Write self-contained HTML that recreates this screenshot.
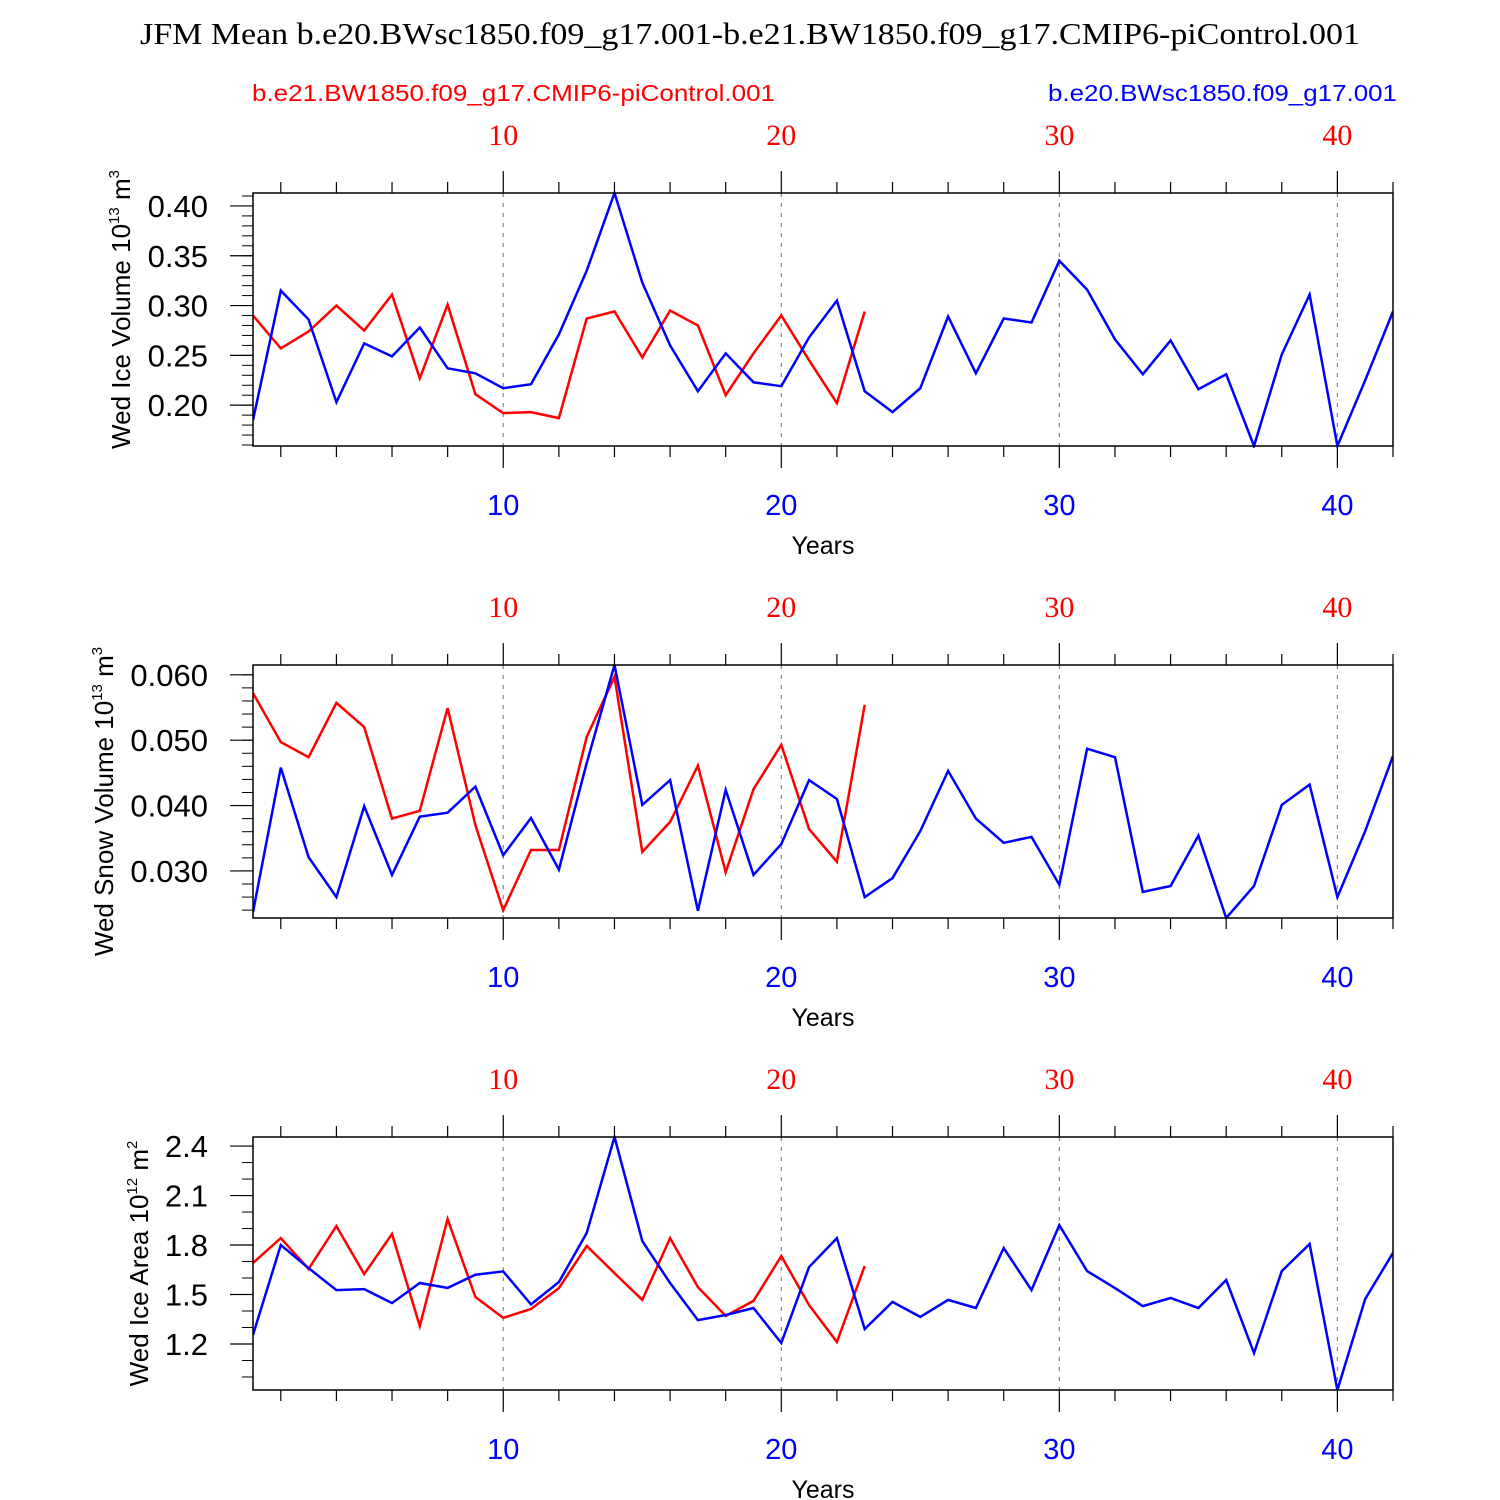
<!DOCTYPE html>
<html><head><meta charset="utf-8"><style>
html,body{margin:0;padding:0;background:#fff;}
svg{display:block;font-family:"Liberation Sans",sans-serif;}
</style></head><body>
<svg id="chart" width="1500" height="1500" viewBox="0 0 1500 1500" xmlns="http://www.w3.org/2000/svg">
<text x="140" y="44" textLength="1220" lengthAdjust="spacingAndGlyphs" font-family="Liberation Serif, serif" font-size="31">JFM Mean b.e20.BWsc1850.f09_g17.001-b.e21.BW1850.f09_g17.CMIP6-piControl.001</text>
<text x="252" y="101" fill="#f00" font-size="23" textLength="523" lengthAdjust="spacingAndGlyphs">b.e21.BW1850.f09_g17.CMIP6-piControl.001</text>
<text x="1048" y="101" fill="#00f" font-size="23" textLength="349" lengthAdjust="spacingAndGlyphs">b.e20.BWsc1850.f09_g17.001</text>
</svg>
<script>
const xTicks=[10,20,30,40];
const iceVolBlue=[0.185,0.315,0.286,0.203,0.262,0.249,0.278,0.237,0.232,0.217,0.221,0.271,0.335,0.413,0.323,0.260,0.214,0.252,0.223,0.219,0.268,0.305,0.214,0.193,0.217,0.289,0.232,0.287,0.283,0.345,0.316,0.266,0.231,0.265,0.216,0.231,0.159,0.251,0.311,0.159,0.225,0.294];
const iceVolRed=[0.290,0.257,0.274,0.300,0.275,0.311,0.227,0.301,0.211,0.192,0.193,0.187,0.287,0.294,0.248,0.295,0.280,0.210,0.252,0.290,0.245,0.202,0.294];
const snowVolBlue=[0.0237,0.0458,0.0321,0.0260,0.0399,0.0294,0.0383,0.0389,0.0429,0.0324,0.0381,0.0302,0.0465,0.0615,0.0401,0.0439,0.0239,0.0424,0.0294,0.0341,0.0439,0.0410,0.0260,0.0289,0.0361,0.0453,0.0380,0.0343,0.0352,0.0279,0.0487,0.0474,0.0268,0.0277,0.0354,0.0228,0.0277,0.0401,0.0432,0.0260,0.0361,0.0476];
const snowVolRed=[0.0572,0.0497,0.0474,0.0557,0.0520,0.0380,0.0392,0.0549,0.0370,0.0240,0.0332,0.0332,0.0505,0.0597,0.0329,0.0375,0.0461,0.0298,0.0425,0.0493,0.0364,0.0314,0.0554];
const iceAreaBlue=[1.255,1.80,1.66,1.527,1.533,1.448,1.57,1.54,1.62,1.64,1.44,1.576,1.873,2.455,1.824,1.57,1.345,1.376,1.418,1.206,1.667,1.842,1.291,1.455,1.364,1.467,1.418,1.782,1.527,1.921,1.642,1.539,1.43,1.479,1.418,1.588,1.145,1.642,1.806,0.921,1.473,1.752];
const iceAreaRed=[1.691,1.842,1.655,1.915,1.624,1.867,1.309,1.958,1.485,1.358,1.412,1.539,1.794,1.630,1.467,1.842,1.545,1.37,1.461,1.733,1.436,1.212,1.673];
const iceVolTicks=["0.20","0.25","0.30","0.35","0.40"];
const snowVolTicks=["0.030","0.040","0.050","0.060"];
const iceAreaTicks=["1.2","1.5","1.8","2.1","2.4"];

const NS="http://www.w3.org/2000/svg";
const svg=document.getElementById('chart');
function mk(tag,attrs,parent){const e=document.createElementNS(NS,tag);for(const k in attrs)e.setAttribute(k,attrs[k]);(parent||svg).appendChild(e);return e;}
const X0=253,X1=1393,XMIN=1,XMAX=42;
const sx=v=>X0+(v-XMIN)/(XMAX-XMIN)*(X1-X0);

const panels=[
 {name:'ice-volume',top:193,bot:446,ymin:0.159,ymax:0.413,ticks:iceVolTicks,minor:0.01,blue:iceVolBlue,red:iceVolRed,label:'Wed Ice Volume 10',exp:'13',unit:' m',uexp:'3',tx:130,ty:-10},
 {name:'snow-volume',top:665,bot:918,ymin:0.0228,ymax:0.0615,ticks:snowVolTicks,minor:0.002,blue:snowVolBlue,red:snowVolRed,label:'Wed Snow Volume 10',exp:'13',unit:' m',uexp:'3',tx:113,ty:10},
 {name:'ice-area',top:1137,bot:1390,ymin:0.921,ymax:2.455,ticks:iceAreaTicks,minor:0.1,blue:iceAreaBlue,red:iceAreaRed,label:'Wed Ice Area 10',exp:'12',unit:' m',uexp:'2',tx:148,ty:0}
];
panels.forEach(p=>{
 const g=mk('g',{});
 
 
 const sy=v=>p.bot-(v-p.ymin)/(p.ymax-p.ymin)*(p.bot-p.top);
 xTicks.forEach(t=>{const l=mk('line',{x1:sx(t),x2:sx(t),y1:p.top,y2:p.bot,stroke:'#888','stroke-width':1.2,'stroke-dasharray':'4,6'},g);
  
  });
 for(let t=2;t<=42;t+=2){const len=(t%10==0)?22:11;
  mk('line',{x1:sx(t),x2:sx(t),y1:p.top,y2:p.top-len,stroke:'#000','stroke-width':1.2},g);
  mk('line',{x1:sx(t),x2:sx(t),y1:p.bot,y2:p.bot+len,stroke:'#000','stroke-width':1.2},g);}
 xTicks.forEach(t=>{
  const a=mk('text',{x:sx(t),y:p.bot+69,'text-anchor':'middle','font-size':29,fill:'#00f'},g);a.textContent=t;
  
  
  const b=mk('text',{x:sx(t),y:p.top-48,'text-anchor':'middle','font-size':30,fill:'#f00','font-family':'Liberation Serif, serif'},g);b.textContent=t;
  
  
 });
 const xt=mk('text',{x:823,y:p.bot+108,'text-anchor':'middle','font-size':25},g);xt.textContent='Years';
 
 
 const start=Math.ceil(p.ymin/p.minor-1e-6);
 for(let i=start;i*p.minor<=p.ymax+1e-9;i++){const v=i*p.minor;
  mk('line',{x1:X0,x2:X0-11,y1:sy(v),y2:sy(v),stroke:'#000','stroke-width':1},g);}
 p.ticks.forEach(t=>{const v=parseFloat(t);
  mk('line',{x1:X0,x2:X0-23,y1:sy(v),y2:sy(v),stroke:'#000','stroke-width':1.2},g);
  const tx=mk('text',{x:X0-45,y:sy(v)+11,'text-anchor':'end','font-size':31},g);tx.textContent=t;
  
  
 });
 const cy=(p.top+p.bot)/2+p.ty;
 const yt=mk('text',{transform:`translate(${p.tx},${cy}) rotate(-90)`,'text-anchor':'middle','font-size':26},g);
 
 
 const s1=document.createElementNS(NS,'tspan');s1.textContent=p.label;yt.appendChild(s1);
 const s2=mk('tspan',{'font-size':15,dy:-11},yt);s2.textContent=p.exp;
 const s3=mk('tspan',{dy:11},yt);s3.textContent=p.unit;
 const s4=mk('tspan',{'font-size':15,dy:-11},yt);s4.textContent=p.uexp;
 const cp=mk('clipPath',{id:'clip-'+p.name},g);mk('rect',{x:X0,y:p.top-2,width:X1-X0,height:p.bot-p.top+4},cp);
 const line=(arr,col,nm)=>{const pts=arr.map((v,i)=>sx(i+1).toFixed(1)+','+sy(v).toFixed(1)).join(' ');
  const pl=mk('polyline',{points:pts,fill:'none',stroke:col,'stroke-width':2.5,'stroke-linejoin':'miter','clip-path':`url(#clip-${p.name})`},g);
  
  };
 line(p.red,'#f00',p.name+'-red-line');
 line(p.blue,'#00f',p.name+'-blue-line');
 const fr=mk('rect',{x:X0,y:p.top,width:X1-X0,height:p.bot-p.top,fill:'none',stroke:'#000','stroke-width':1.5},g);
 
 
});
</script>
</body></html>
